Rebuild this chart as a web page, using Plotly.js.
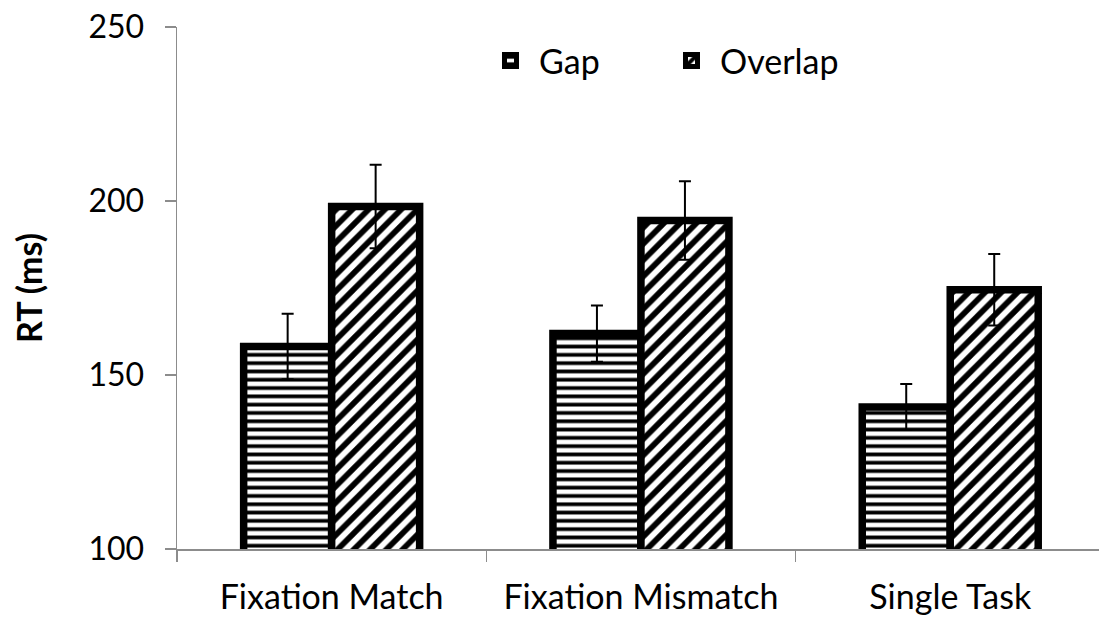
<!DOCTYPE html>
<html>
<head>
<meta charset="utf-8">
<script src="https://cdn.plot.ly/plotly-3.0.1.min.js"></script>
<style>html,body{margin:0;padding:0;background:#fff;}#chart{width:1099px;height:619px;}</style>
</head>
<body>
<div id="chart"></div>
<script>
const categories = ['Fixation Match', 'Fixation Mismatch', 'Single Task'];
const gapRT = [158.2, 161.9, 140.8];
const gapErr = [9.4, 8.1, 6.6];
const overlapRT = [198.4, 194.4, 174.5];
const overlapErr = [12.0, 11.3, 10.3];
const yTicks = [100, 150, 200, 250];

const FONT = 'Lato, "Open Sans", sans-serif';
const AXIS_GRAY = '#8c8c8c';

const traces = [
  {
    type: 'bar', name: 'Gap', x: categories, y: gapRT,
    marker: {
      color: '#ffffff',
      line: {color: '#000000', width: 7.5},
      pattern: {shape: '-', fgcolor: '#000000', bgcolor: '#ffffff', size: 8.3, solidity: 0.45, fillmode: 'replace'}
    },
    error_y: {type: 'data', array: gapErr, visible: true, color: '#000000', thickness: 2, width: 6},
    hoverinfo: 'skip'
  },
  {
    type: 'bar', name: 'Overlap', x: categories, y: overlapRT,
    marker: {
      color: '#ffffff',
      line: {color: '#000000', width: 7.5},
      pattern: {shape: '/', fgcolor: '#000000', bgcolor: '#ffffff', size: 11.5, solidity: 0.5, fillmode: 'replace'}
    },
    error_y: {type: 'data', array: overlapErr, visible: true, color: '#000000', thickness: 2, width: 6},
    hoverinfo: 'skip'
  }
];

const layout = {
  width: 1099, height: 619,
  margin: {l: 177, r: 0, t: 27, b: 70, pad: 0, autoexpand: false},
  paper_bgcolor: '#ffffff', plot_bgcolor: '#ffffff',
  font: {family: FONT, size: 34, color: '#000000'},
  barmode: 'group', bargap: 0.431, bargroupgap: 0,
  showlegend: true,
  legend: {
    orientation: 'h', xref: 'paper', yref: 'paper',
    x: 0.3308, y: 0.935, xanchor: 'left', yanchor: 'middle',
    itemwidth: 47,
    entrywidth: 119, entrywidthmode: 'pixels',
    font: {family: FONT, size: 34, color: '#000000'},
    bgcolor: 'rgba(0,0,0,0)', borderwidth: 0, itemclick: false
  },
  xaxis: {
    type: 'category', range: [-0.5, 2.481], automargin: false,
    showline: true, linecolor: AXIS_GRAY, linewidth: 1.5,
    ticks: 'outside', tickson: 'boundaries', ticklen: 11, tickcolor: AXIS_GRAY, tickwidth: 1.5,
    showgrid: false, zeroline: false,
    tickfont: {family: FONT, size: 34, color: '#000000'},
    ticklabelstandoff: 18
  },
  yaxis: {
    range: [100, 250], tickvals: yTicks, ticktext: yTicks.map(String), automargin: false,
    showline: true, linecolor: AXIS_GRAY, linewidth: 1.5,
    ticks: 'outside', ticklen: 11, tickcolor: AXIS_GRAY, tickwidth: 1.5,
    showgrid: false, zeroline: false,
    tickfont: {family: FONT, size: 32, color: '#000000'},
    ticklabelstandoff: 14,
    title: {text: '<b>RT (ms)</b>', font: {family: FONT, size: 34, color: '#000000'}, standoff: 35}
  }
};

Plotly.newPlot('chart', traces, layout, {displayModeBar: false, staticPlot: true});
</script>
</body>
</html>
